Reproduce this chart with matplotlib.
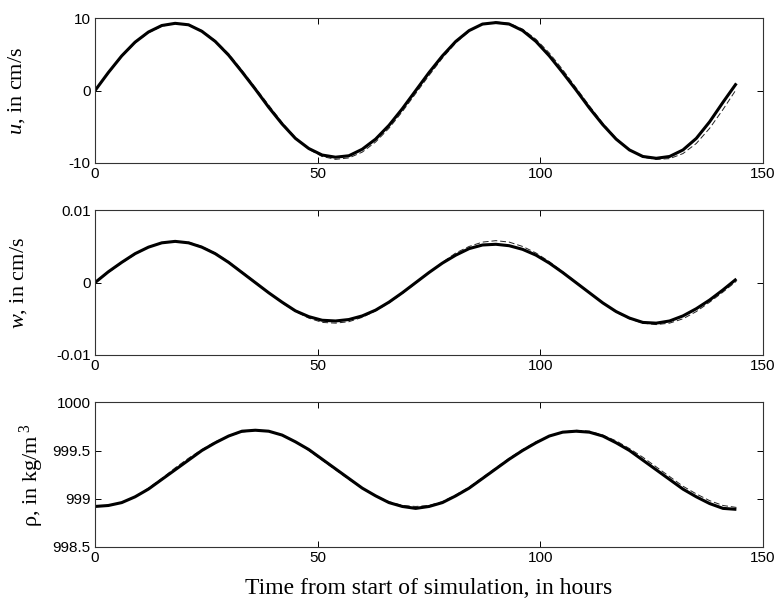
import numpy as np
import matplotlib
matplotlib.use("Agg")
import matplotlib.pyplot as plt

plt.rcParams["font.family"] = ["Liberation Sans", "DejaVu Sans"]
plt.rcParams["mathtext.fontset"] = "custom"
plt.rcParams["mathtext.rm"] = "Liberation Serif"
plt.rcParams["mathtext.it"] = "Liberation Serif:italic"

# time axis, hours (every 3 h)
hours = np.arange(0, 145, 3)

# horizontal velocity u, cm/s
u_model = [0.0, 2.5, 4.8, 6.7, 8.1, 9.0, 9.3, 9.1, 8.2, 6.8, 4.9, 2.6, 0.2,
           -2.3, -4.6, -6.6, -8.0, -8.9, -9.2, -9.0, -8.1, -6.7, -4.8, -2.5, 0.0,
           2.5, 4.8, 6.8, 8.3, 9.2, 9.4, 9.2, 8.3, 6.8, 4.8, 2.5, 0.1,
           -2.4, -4.7, -6.7, -8.2, -9.1, -9.35, -9.1, -8.2, -6.6, -4.3, -1.6, 1.0]
u_exact = [0.0, 2.4, 4.7, 6.6, 8.0, 8.9, 9.3, 9.1, 8.3, 6.9, 5.1, 2.8, 0.4,
           -2.0, -4.4, -6.5, -8.1, -9.1, -9.5, -9.3, -8.5, -7.1, -5.2, -2.9, -0.4,
           2.1, 4.5, 6.6, 8.2, 9.2, 9.5, 9.3, 8.5, 7.1, 5.2, 2.9, 0.4,
           -2.1, -4.5, -6.6, -8.2, -9.2, -9.5, -9.4, -8.7, -7.3, -5.2, -2.6, 0.2]

# vertical velocity w, 1e-3 cm/s
w_model = [0.0, 1.5, 2.8, 4.0, 4.9, 5.5, 5.7, 5.5, 4.9, 4.0, 2.8, 1.4, 0.0,
           -1.4, -2.7, -3.9, -4.7, -5.2, -5.3, -5.1, -4.6, -3.8, -2.7, -1.4, 0.0,
           1.4, 2.7, 3.8, 4.7, 5.2, 5.3, 5.1, 4.6, 3.8, 2.7, 1.4, 0.0,
           -1.4, -2.8, -4.0, -4.9, -5.5, -5.6, -5.3, -4.6, -3.6, -2.4, -1.0, 0.5]
w_exact = [0.0, 1.4, 2.7, 3.9, 4.9, 5.5, 5.7, 5.6, 5.0, 4.1, 2.9, 1.5, 0.1,
           -1.4, -2.8, -4.0, -4.9, -5.5, -5.6, -5.4, -4.8, -3.9, -2.8, -1.5, -0.1,
           1.4, 2.8, 4.1, 5.0, 5.6, 5.8, 5.6, 5.0, 4.1, 2.9, 1.5, 0.1,
           -1.4, -2.8, -4.1, -5.0, -5.6, -5.8, -5.6, -5.0, -4.0, -2.7, -1.3, 0.2]

# density rho, kg/m^3
rho_model = [998.92, 998.93, 998.96, 999.02, 999.10, 999.20, 999.30, 999.40, 999.50,
             999.58, 999.65, 999.70, 999.71, 999.70, 999.66, 999.59, 999.51, 999.41,
             999.31, 999.21, 999.11, 999.03, 998.96, 998.92, 998.90, 998.92, 998.96,
             999.03, 999.11, 999.21, 999.31, 999.41, 999.50, 999.58, 999.65, 999.69,
             999.70, 999.69, 999.65, 999.58, 999.50, 999.40, 999.30, 999.20, 999.10,
             999.02, 998.95, 998.90, 998.89]
rho_exact = [998.92, 998.93, 998.96, 999.02, 999.11, 999.21, 999.32, 999.42, 999.51,
             999.59, 999.65, 999.69, 999.71, 999.70, 999.66, 999.59, 999.50, 999.40,
             999.30, 999.20, 999.11, 999.03, 998.97, 998.93, 998.92, 998.93, 998.97,
             999.04, 999.12, 999.22, 999.32, 999.42, 999.51, 999.59, 999.65, 999.69,
             999.71, 999.70, 999.66, 999.60, 999.52, 999.43, 999.33, 999.23, 999.13,
             999.05, 998.98, 998.93, 998.91]

panels = [
    (u_model, u_exact, r"$u$, in cm/s", (-10, 10), [-10, 0, 10], ["-10", "0", "10"], -0.102),
    (np.array(w_model) * 1e-3, np.array(w_exact) * 1e-3, r"$w$, in cm/s",
     (-0.01, 0.01), [-0.01, 0, 0.01], ["-0.01", "0", "0.01"], -0.099),
    (rho_model, rho_exact, r"ρ, in kg/m$^{\ 3}$", (998.5, 1000),
     [998.5, 999, 999.5, 1000], ["998.5", "999", "999.5", "1000"], -0.074),
]

fig = plt.figure(figsize=(7.76, 6.03), dpi=100)
bottoms = [0.7297, 0.4113, 0.0929]

for (ys, yd, lab, lim, yt, ytl, lx), b in zip(panels, bottoms):
    ax = fig.add_axes([0.1224, b, 0.861, 0.240])
    ax.plot(hours, yd, color="#222222", lw=0.7, ls=(0, (6, 3)))
    ax.plot(hours, ys, color="black", lw=2.2, solid_joinstyle="round",
            solid_capstyle="butt")
    ax.set_xlim(0, 150)
    ax.set_ylim(*lim)
    ax.set_xticks([0, 50, 100, 150])
    ax.set_yticks(yt)
    ax.set_yticklabels(ytl)
    ax.tick_params(direction="in", top=True, right=True, length=4, width=0.7,
                   labelsize=11, pad=3)
    for s in ax.spines.values():
        s.set_linewidth(0.8)
        s.set_color("#333333")
    ax.set_ylabel(lab, fontsize=16, family="Liberation Serif")
    ax.yaxis.set_label_coords(lx, 0.5)

ax.set_xlabel("Time from start of simulation, in hours", fontsize=17,
              family="Liberation Serif", labelpad=9)

fig.savefig("out.png", dpi=100)
